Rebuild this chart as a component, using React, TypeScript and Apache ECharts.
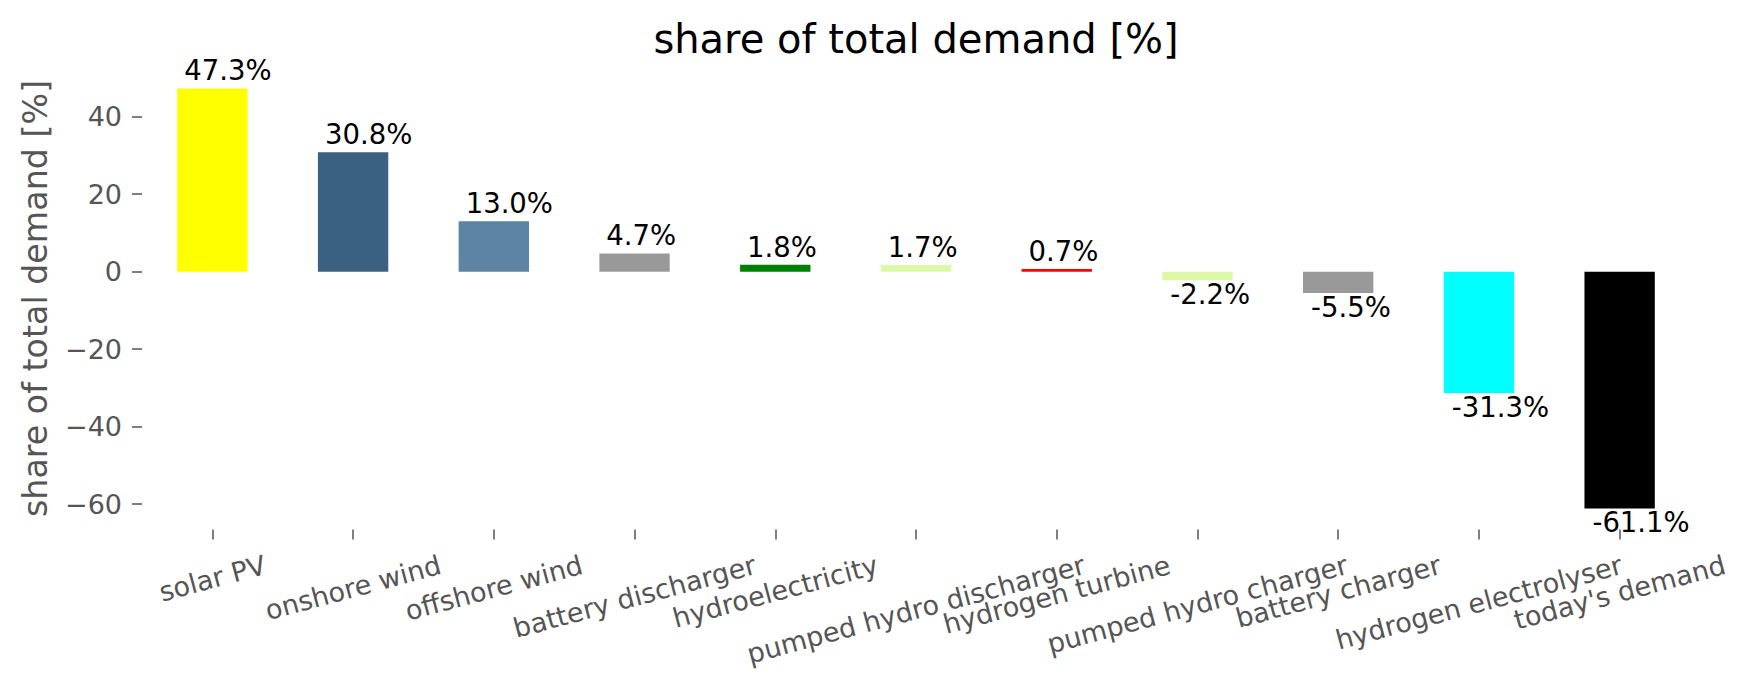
import React, { useEffect, useRef } from "react";
import * as echarts from "echarts";

const categories = [
  "solar PV",
  "onshore wind",
  "offshore wind",
  "battery discharger",
  "hydroelectricity",
  "pumped hydro discharger",
  "hydrogen turbine",
  "pumped hydro charger",
  "battery charger",
  "hydrogen electrolyser",
  "today's demand",
];
const values = [47.3, 30.8, 13.0, 4.7, 1.8, 1.7, 0.7, -2.2, -5.5, -31.3, -61.1];
const barColors = [
  "#ffff00",
  "#3b6182",
  "#5e84a5",
  "#999999",
  "#008000",
  "#dcf8a8",
  "#ff0000",
  "#dcf8a8",
  "#999999",
  "#00ffff",
  "#000000",
];
const yTicks = [-60, -40, -20, 0, 20, 40];
const titleText = "share of total demand [%]";
const yName = "share of total demand [%]";

const FONT = "'DejaVu Sans', 'Liberation Sans', sans-serif";

export default function App() {
  const ref = useRef<HTMLDivElement>(null);
  useEffect(() => {
    if (!ref.current) return;
    const chart = echarts.init(ref.current, undefined, { renderer: "svg" });
    const dMax = Math.max(...values);
    const dMin = Math.min(...values);
    const span = dMax - dMin;
    const yMin = dMin - 0.05 * span;
    const yMax = dMax + 0.05 * span;
    const gridLeft = 142;
    const gridRight = 63;
    const gridTop = 67.4;
    const gridBottom = 159.5;
    chart.setOption({
      animation: false,
      backgroundColor: "#ffffff",
      grid: { left: gridLeft, right: gridRight, top: gridTop, bottom: gridBottom },
      xAxis: {
        type: "category",
        data: categories,
        axisLine: { show: false, onZero: false },
        axisTick: {
          show: true,
          interval: 0,
          alignWithLabel: true,
          length: 10,
          lineStyle: { color: "#555555", width: 1.5 },
        },
        axisLabel: { show: false, interval: 0 },
        splitLine: { show: false },
      },
      yAxis: {
        type: "value",
        min: yMin,
        max: yMax,
        axisLine: { show: false },
        splitLine: { show: false },
        axisTick: { show: true, length: 10, customValues: yTicks, lineStyle: { color: "#555555", width: 1.5 } },
        axisLabel: {
          customValues: yTicks,
          margin: 20,
          fontSize: 27,
          fontFamily: FONT,
          color: "#555555",
          formatter: (v: number) => String(v).replace("-", "\u2212"),
        },
        name: yName,
        nameLocation: "middle",
        nameRotate: 90,
        nameGap: 90,
        nameTextStyle: { fontSize: 33.3, fontFamily: FONT, color: "#555555" },
      },
      series: [
        {
          type: "bar",
          barWidth: "50%",
          data: values.map((v, i) => ({
            value: v,
            itemStyle: { color: barColors[i] },
            label: {
              show: true,
              position: v >= 0 ? [7, -4] : [8, "100%"],
              align: "left",
              verticalAlign: v >= 0 ? "bottom" : "top",
              formatter: v.toFixed(1) + "%",
              fontSize: 27.5,
              fontFamily: FONT,
              color: "#000000",
            },
          })),
        },
      ],
    });

    const fx = 27;
    const canvas = document.createElement("canvas");
    const ctx = canvas.getContext("2d");
    if (ctx) ctx.font = `${fx}px 'DejaVu Sans'`;
    const rot = (15 * Math.PI) / 180;
    const yBottom = chart.convertToPixel({ yAxisIndex: 0 }, yMin) as number;
    const y0 = yBottom + 10 + 9.7;
    const labelGraphics: any[] = categories.map((c) => {
      const x = chart.convertToPixel({ xAxisIndex: 0 }, c) as number;
      const w = ctx ? ctx.measureText(c).width : c.length * fx * 0.6;
      const h = fx * 1.0;
      const H = w * Math.sin(rot) + h * Math.cos(rot);
      return {
        type: "text",
        x,
        y: y0 + H / 2 + 2,
        rotation: rot,
        silent: true,
        style: {
          text: c,
          fontSize: fx,
          fontFamily: FONT,
          fill: "#555555",
          align: "center",
          verticalAlign: "middle",
        },
      };
    });
    const width = chart.getWidth();
    const cx = gridLeft + (width - gridLeft - gridRight) / 2;
    labelGraphics.push({
      type: "text",
      x: cx,
      y: 39,
      silent: true,
      style: {
        text: titleText,
        fontSize: 40,
        fontFamily: FONT,
        fill: "#000000",
        align: "center",
        verticalAlign: "middle",
      },
    });
    chart.setOption({ graphic: labelGraphics });

    return () => chart.dispose();
  }, []);
  return (
    <div
      ref={ref}
      style={{ position: "absolute", left: 0, top: 0, width: 1753, height: 689, background: "#fff" }}
    />
  );
}
